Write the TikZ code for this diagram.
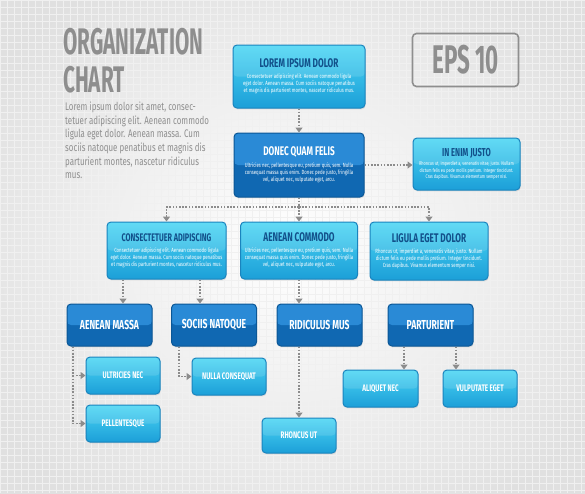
\documentclass[tikz,border=0pt]{standalone}
\usepackage{fontspec}
\setmainfont{Fira Sans}
\newfontfamily\hdfont{Fira Sans}[FakeStretch=0.66]
\newfontfamily\ttlfont{Fira Sans}[FakeStretch=0.56]
\newfontfamily\bdfont{Fira Sans}[FakeStretch=0.72]
\usetikzlibrary{arrows.meta,shadows}
\definecolor{cyanTop}{HTML}{4CD6F4}
\definecolor{cyanBot}{HTML}{1C9FD8}
\definecolor{cyanBd}{HTML}{1A84BE}
\definecolor{darkTop}{HTML}{2A8AD6}
\definecolor{darkBot}{HTML}{1068B2}
\definecolor{darkBd}{HTML}{0B5796}
\definecolor{navy}{HTML}{12508A}
\definecolor{greyT}{HTML}{8E8E8E}
\definecolor{connC}{HTML}{8C8C8C}
\tikzset{
  basebox/.style={rounded corners=4pt, line width=1pt, inner sep=1pt, align=center,
     drop shadow={opacity=0.18, shadow xshift=0.6pt, shadow yshift=-1.4pt}},
  lightbox/.style={basebox, draw=cyanBd, top color=cyanTop, bottom color=cyanBot,
     path picture={\fill[white, opacity=0.12] (path picture bounding box.north west) rectangle (path picture bounding box.east);}},
  darkbox/.style={basebox, draw=darkBd, fill=darkBot,
     path picture={\fill[darkTop] (path picture bounding box.north west) rectangle (path picture bounding box.east);}},
  bodytext/.style={text=white, font=\bdfont\fontsize{6}{7}\selectfont},
  lvthree/.style={darkbox, text=white, font=\hdfont\bfseries\fontsize{13}{15}\selectfont, minimum width=85pt, minimum height=42pt},
  lvfour/.style={lightbox, text=white, font=\hdfont\bfseries\fontsize{9.5}{11}\selectfont, minimum width=74pt, minimum height=37pt},
  conn/.style={draw=connC, line width=1.6pt, dash pattern=on 1.6pt off 1.6pt,
     -{Triangle[width=7pt,length=5pt]}},
  connline/.style={draw=connC, line width=1.6pt, dash pattern=on 1.6pt off 1.6pt},
}
\newcommand\btitle[3][12.5]{{\hdfont\bfseries\fontsize{#1}{14}\selectfont\color{#2}#3}}
\begin{document}
\begin{tikzpicture}[x=1pt,y=-1pt]
\useasboundingbox (0,0) rectangle (585,493);
% background
\shade[inner color=white, outer color=black!12] (-60,-60) rectangle (645,553);
\foreach \i in {0,7,...,585} \draw[black!6, line width=0.3pt] (\i,0) -- (\i,493);
\foreach \j in {0,7,...,493} \draw[black!6, line width=0.3pt] (0,\j) -- (585,\j);

% title and text
\node[anchor=north west, inner sep=0pt, align=left, text=greyT,
      font=\ttlfont\bfseries\fontsize{37}{38}\selectfont] (title) at (63,28) {ORGANIZATION\\CHART};
\node[anchor=north west, inner sep=0pt, align=left, text=greyT,
      font=\bdfont\fontsize{11}{13.6}\selectfont] (intro) at (65,102)
  {Lorem ipsum dolor sit amet, consec-\\tetuer adipiscing elit. Aenean commodo\\ligula eget dolor. Aenean massa. Cum\\sociis natoque penatibus et magnis dis\\parturient montes, nascetur ridiculus\\mus.};
\node[draw=greyT, line width=1.6pt, rounded corners=4pt, minimum width=106pt, minimum height=53pt,
      text=greyT, font=\ttlfont\bfseries\fontsize{40}{40}\selectfont] (eps) at (465.5,60) {EPS 10};

% boxes
\node[lightbox, bodytext, minimum width=132pt, minimum height=63pt] (lorem) at (299,76.5)
  {\btitle{navy}{LOREM IPSUM DOLOR}\\[4pt]Consectetuer adipiscing elit. Aenean commodo ligula\\eget dolor. Aenean massa. Cum sociis natoque penatibus\\et magnis dis parturient montes, nascetur ridiculus mus.};
\node[darkbox, bodytext, minimum width=130pt, minimum height=64pt] (donec) at (299,165)
  {\btitle{white}{DONEC QUAM FELIS}\\[5pt]Ultricies nec, pellentesque eu, pretium quis, sem. Nulla\\consequat massa quis enim. Donec pede justo, fringilla\\vel, aliquet nec, vulputate eget, arcu.};
\node[lightbox, bodytext, font=\bdfont\fontsize{5.3}{6.4}\selectfont, minimum width=107pt, minimum height=52pt] (enim) at (466.5,164)
  {\btitle[11.5]{navy}{IN ENIM JUSTO}\\[3pt]Rhoncus ut, imperdiet a, venenatis vitae, justo. Nullam\\dictum felis eu pede mollis pretium. Integer tincidunt.\\Cras dapibus. Vivamus elementum semper nisi.};
\node[lightbox, bodytext, minimum width=119pt, minimum height=57pt] (cons) at (166.5,250.5)
  {\btitle[11]{navy}{CONSECTETUER ADIPISCING}\\[4pt]Consectetuer adipiscing elit. Aenean commodo ligula\\eget dolor. Aenean massa. Cum sociis natoque penatibus\\et magnis dis parturient montes, nascetur ridiculus mus.};
\node[lightbox, bodytext, minimum width=117pt, minimum height=57pt] (comm) at (299,250.5)
  {\btitle{navy}{AENEAN COMMODO}\\[4pt]Ultricies nec, pellentesque eu, pretium quis, sem. Nulla\\consequat massa quis enim. Donec pede justo, fringilla\\vel, aliquet nec, vulputate eget, arcu.};
\node[lightbox, bodytext, minimum width=118pt, minimum height=58pt] (lig) at (429,251)
  {\btitle{navy}{LIGULA EGET DOLOR}\\[4pt]Rhoncus ut, imperdiet a, venenatis vitae, justo. Nullam\\dictum felis eu pede mollis pretium. Integer tincidunt.\\Cras dapibus. Vivamus elementum semper nisi.};

\node[lvthree] (massa) at (109.5,325) {AENEAN MASSA};
\node[lvthree] (soc) at (214,325) {SOCIIS NATOQUE};
\node[lvthree] (rid) at (319.5,325) {RIDICULUS MUS};
\node[lvthree] (par) at (430.5,325) {PARTURIENT};

\node[lvfour] (ult) at (123,375.5) {ULTRICIES NEC};
\node[lvfour] (pel) at (123,423.5) {PELLENTESQUE};
\node[lvfour] (nul) at (229,376.5) {NULLA CONSEQUAT};
\node[lvfour, minimum height=35pt] (rho) at (299,435.5) {RHONCUS UT};
\node[lvfour, minimum width=75pt] (ali) at (380.5,388.5) {ALIQUET NEC};
\node[lvfour] (vul) at (480,388.5) {VULPUTATE EGET};

% connectors
\coordinate (bus) at (299,207);
\coordinate (xa) at (123,0);
\coordinate (xb) at (200,0);
\coordinate (xc) at (73,0);
\coordinate (xd) at (179,0);
\coordinate (xe) at (404,0);
\coordinate (xf) at (456,0);
\draw[conn] (lorem.south) -- (donec.north);
\draw[conn] (donec.east) -- (donec.east -| enim.west);
\draw[connline] (donec.south) -- (bus);
\draw[conn] (bus) -| (cons.north);
\draw[conn] (bus) -- (comm.north);
\draw[conn] (bus) -| (lig.north);
\draw[conn] (cons.south -| xa) -- (massa.north -| xa);
\draw[conn] (cons.south -| xb) -- (soc.north -| xb);
\draw[conn] (comm.south) -- (comm.south |- rid.north);
\draw[conn] (rho.north |- rid.south) -- (rho.north);
\draw[conn] (massa.south -| xc) |- (ult.west);
\draw[conn] (massa.south -| xc) |- (pel.west);
\draw[conn] (soc.south -| xd) |- (nul.west);
\draw[conn] (par.south -| xe) -- (ali.north -| xe);
\draw[conn] (par.south -| xf) -- (vul.north -| xf);
\end{tikzpicture}
\end{document}
